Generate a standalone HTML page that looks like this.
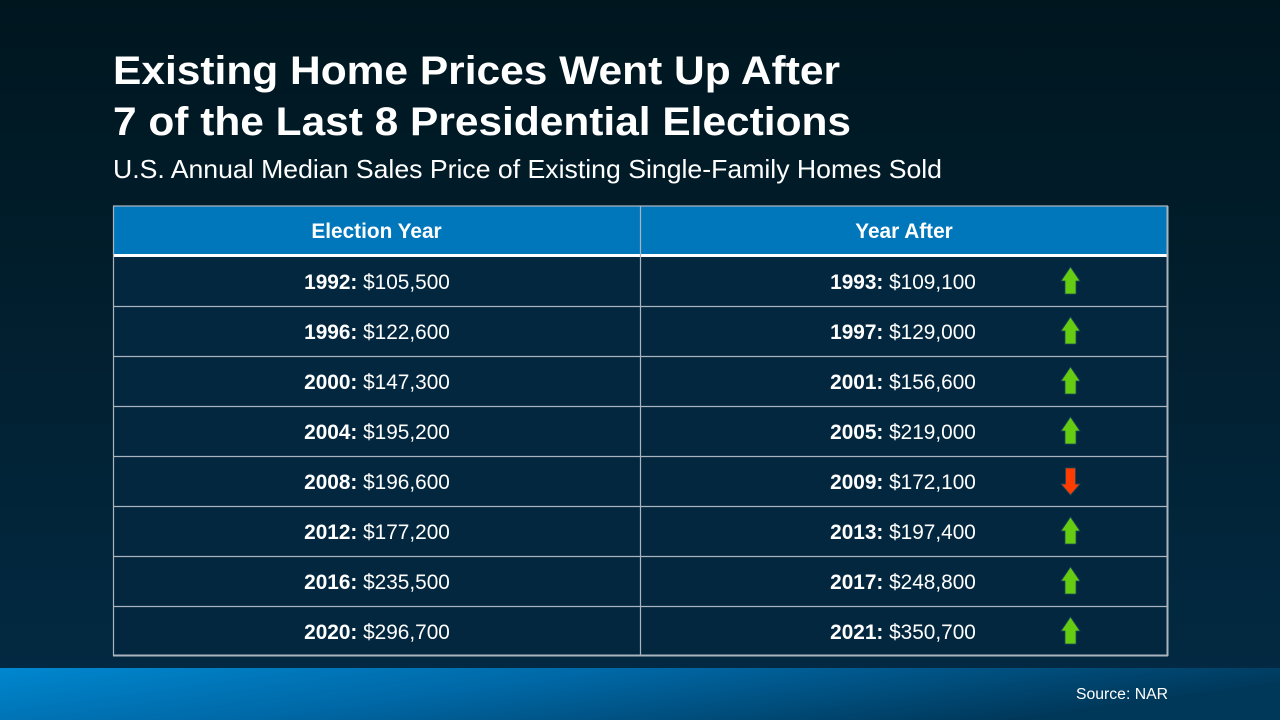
<!DOCTYPE html>
<html><head><meta charset="utf-8"><style>
html,body{margin:0;padding:0;width:1280px;height:720px;overflow:hidden;background:#011a26}
svg{display:block}
text{font-family:"Liberation Sans",Arial,sans-serif;fill:#fff}
</style></head><body>
<svg width="1280" height="720" viewBox="0 0 1280 720" xmlns="http://www.w3.org/2000/svg">
<defs>
<linearGradient id="bg" x1="0" y1="0" x2="0" y2="1">
<stop offset="0" stop-color="#00161f"/>
<stop offset="0.35" stop-color="#011d2b"/>
<stop offset="1" stop-color="#032b45"/>
</linearGradient>
<linearGradient id="ft" x1="0" y1="0" x2="1" y2="0.3">
<stop offset="0" stop-color="#0087cf"/>
<stop offset="0.45" stop-color="#0068a6"/>
<stop offset="1" stop-color="#00385a"/>
</linearGradient>
</defs>
<rect x="0" y="0" width="1280" height="720" fill="url(#bg)"/>
<rect x="0" y="668" width="1280" height="52" fill="url(#ft)"/>

<text x="113" y="84" font-size="40" font-weight="bold" textLength="727" lengthAdjust="spacingAndGlyphs">Existing Home Prices Went Up After</text>
<text x="113" y="135" font-size="40" font-weight="bold" textLength="738" lengthAdjust="spacingAndGlyphs">7 of the Last 8 Presidential Elections</text>
<text x="113" y="178" font-size="26" textLength="829" lengthAdjust="spacingAndGlyphs">U.S. Annual Median Sales Price of Existing Single-Family Homes Sold</text>

<!-- table -->
<rect x="113" y="206" width="1055" height="48" fill="#0077bb"/>
<rect x="113" y="257" width="1055" height="399" fill="#03273f"/>
<rect x="113" y="254" width="1055" height="3" fill="#ffffff"/>
<g stroke="#a9b4be" stroke-width="1.2">
<line x1="113" y1="206" x2="1168" y2="206"/>
<line x1="113.5" y1="206" x2="113.5" y2="656"/>
<line x1="640.5" y1="206" x2="640.5" y2="656"/>
<line x1="113" y1="306.5" x2="1168" y2="306.5"/>
<line x1="113" y1="356.5" x2="1168" y2="356.5"/>
<line x1="113" y1="406.5" x2="1168" y2="406.5"/>
<line x1="113" y1="456.5" x2="1168" y2="456.5"/>
<line x1="113" y1="506.5" x2="1168" y2="506.5"/>
<line x1="113" y1="556.5" x2="1168" y2="556.5"/>
<line x1="113" y1="606.5" x2="1168" y2="606.5"/>
</g>
<g stroke="#a9b4be" stroke-width="2">
<line x1="1167.5" y1="206" x2="1167.5" y2="656"/>
<line x1="113" y1="655.5" x2="1168" y2="655.5"/>
</g>

<text x="376.5" y="238" font-size="20.8" font-weight="bold" text-anchor="middle">Election Year</text>
<text x="904" y="238" font-size="20.8" font-weight="bold" text-anchor="middle">Year After</text>

<g font-size="20.8" text-anchor="middle">
<text x="377" y="289"><tspan font-weight="bold">1992:</tspan> $105,500</text>
<text x="377" y="339"><tspan font-weight="bold">1996:</tspan> $122,600</text>
<text x="377" y="389"><tspan font-weight="bold">2000:</tspan> $147,300</text>
<text x="377" y="439"><tspan font-weight="bold">2004:</tspan> $195,200</text>
<text x="377" y="489"><tspan font-weight="bold">2008:</tspan> $196,600</text>
<text x="377" y="539"><tspan font-weight="bold">2012:</tspan> $177,200</text>
<text x="377" y="589"><tspan font-weight="bold">2016:</tspan> $235,500</text>
<text x="377" y="639"><tspan font-weight="bold">2020:</tspan> $296,700</text>

<text x="903" y="289"><tspan font-weight="bold">1993:</tspan> $109,100</text>
<text x="903" y="339"><tspan font-weight="bold">1997:</tspan> $129,000</text>
<text x="903" y="389"><tspan font-weight="bold">2001:</tspan> $156,600</text>
<text x="903" y="439"><tspan font-weight="bold">2005:</tspan> $219,000</text>
<text x="903" y="489"><tspan font-weight="bold">2009:</tspan> $172,100</text>
<text x="903" y="539"><tspan font-weight="bold">2013:</tspan> $197,400</text>
<text x="903" y="589"><tspan font-weight="bold">2017:</tspan> $248,800</text>
<text x="903" y="639"><tspan font-weight="bold">2021:</tspan> $350,700</text>
</g>

<!-- arrows -->
<g fill="#66cc11" stroke="#1d4a5a" stroke-width="0.8">
<path d="M1070.5 267 L1080 281 L1076 281 L1076 294 L1065 294 L1065 281 L1061 281 Z"/>
<path d="M1070.5 317 L1080 331 L1076 331 L1076 344 L1065 344 L1065 331 L1061 331 Z"/>
<path d="M1070.5 367 L1080 381 L1076 381 L1076 394 L1065 394 L1065 381 L1061 381 Z"/>
<path d="M1070.5 417 L1080 431 L1076 431 L1076 444 L1065 444 L1065 431 L1061 431 Z"/>
<path d="M1070.5 517 L1080 531 L1076 531 L1076 544 L1065 544 L1065 531 L1061 531 Z"/>
<path d="M1070.5 567 L1080 581 L1076 581 L1076 594 L1065 594 L1065 581 L1061 581 Z"/>
<path d="M1070.5 617 L1080 631 L1076 631 L1076 644 L1065 644 L1065 631 L1061 631 Z"/>
</g>
<path d="M1065.5 468 L1075.5 468 L1075.5 484 L1080 484 L1070.5 495 L1061 484 L1065.5 484 Z" fill="#ff3c00" stroke="#1d4a5a" stroke-width="0.8"/>

<text x="1168" y="699" font-size="15.5" text-anchor="end" textLength="92" lengthAdjust="spacingAndGlyphs">Source: NAR</text>
</svg>
</body></html>
